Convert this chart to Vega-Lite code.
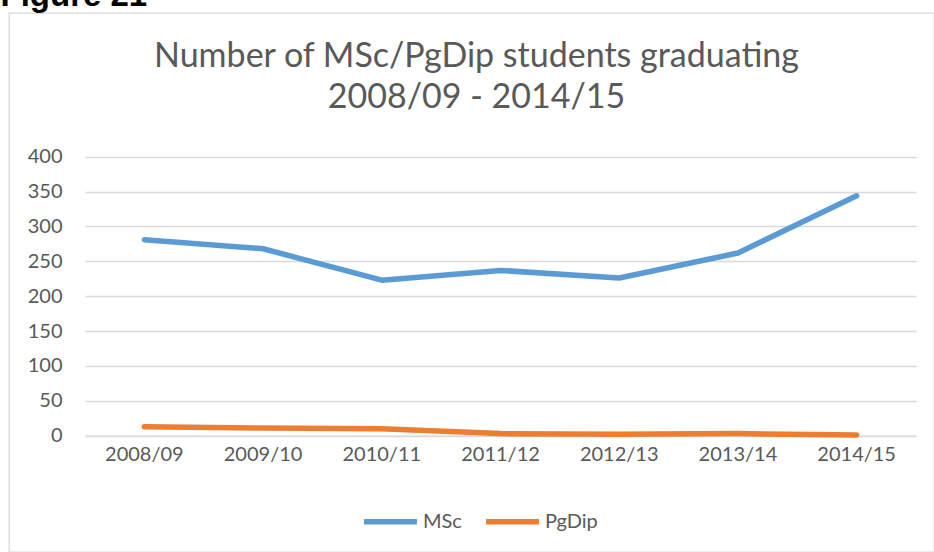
{
  "$schema": "https://vega.github.io/schema/vega-lite/v6.json",
  "autosize": "none",
  "padding": {"left": 9, "top": 13, "right": 0, "bottom": 0},
  "width": 925,
  "height": 539,
  "background": "white",
  "config": {
    "view": {"stroke": "#d9d9d9", "strokeWidth": 1.3},
    "font": "Lato"
  },
  "title": {
    "text": ["Number of MSc/PgDip students graduating", "2008/09 - 2014/15"],
    "font": "Lato",
    "fontSize": 34,
    "fontWeight": "normal",
    "color": "#595959",
    "lineHeight": 41.7,
    "anchor": "middle",
    "frame": "group",
    "baseline": "alphabetic",
    "offset": -163.5,
    "dx": 5
  },
  "data": {
    "values": [
      {"year": "2008/09", "series": "MSc", "value": 281},
      {"year": "2009/10", "series": "MSc", "value": 268},
      {"year": "2010/11", "series": "MSc", "value": 223},
      {"year": "2011/12", "series": "MSc", "value": 237},
      {"year": "2012/13", "series": "MSc", "value": 226},
      {"year": "2013/14", "series": "MSc", "value": 262},
      {"year": "2014/15", "series": "MSc", "value": 344},
      {"year": "2008/09", "series": "PgDip", "value": 13},
      {"year": "2009/10", "series": "PgDip", "value": 11},
      {"year": "2010/11", "series": "PgDip", "value": 10},
      {"year": "2011/12", "series": "PgDip", "value": 3},
      {"year": "2012/13", "series": "PgDip", "value": 2},
      {"year": "2013/14", "series": "PgDip", "value": 3},
      {"year": "2014/15", "series": "PgDip", "value": 1}
    ]
  },
  "mark": {"type": "line", "strokeWidth": 5.5, "strokeCap": "round", "strokeJoin": "round"},
  "encoding": {
    "x": {
      "field": "year",
      "type": "nominal",
      "sort": null,
      "scale": {"type": "band", "range": [76, 907], "paddingInner": 0, "paddingOuter": 0},
      "axis": {
        "title": null,
        "orient": "bottom",
        "offset": -116.3,
        "labelAngle": 0,
        "labelFont": "Lato",
        "labelFontSize": 20,
        "labelColor": "#595959",
        "labelPadding": 9,
        "labelBaseline": "top",
        "ticks": false,
        "tickSize": 0,
        "grid": false,
        "domain": true,
        "domainColor": "#d9d9d9",
        "domainWidth": 1.3
      }
    },
    "y": {
      "field": "value",
      "type": "quantitative",
      "scale": {"domain": [0, 400], "nice": false, "range": [422.7, 143.7]},
      "axis": {
        "title": "Figure 21",
        "titleFont": "Liberation Sans",
        "titleFontSize": 33,
        "titleFontWeight": "bold",
        "titleColor": "black",
        "titleAngle": 0,
        "titleAlign": "left",
        "titleBaseline": "alphabetic",
        "titleX": -85,
        "titleY": -8,
        "offset": -76,
        "values": [0, 50, 100, 150, 200, 250, 300, 350, 400],
        "labelFont": "Lato",
        "labelFontSize": 20,
        "labelColor": "#595959",
        "labelPadding": 23,
        "ticks": false,
        "tickSize": 0,
        "domain": false,
        "grid": true,
        "gridColor": "#d9d9d9",
        "gridWidth": 1.3
      }
    },
    "color": {
      "field": "series",
      "type": "nominal",
      "scale": {"domain": ["MSc", "PgDip"], "range": ["#5B9BD5", "#ED7D31"]},
      "legend": {
        "title": null,
        "orient": "none",
        "direction": "horizontal",
        "legendX": 352,
        "legendY": 479,
        "symbolType": "stroke",
        "symbolSize": 2800,
        "symbolStrokeWidth": 5.5,
        "labelFont": "Lato",
        "labelFontSize": 20,
        "labelColor": "#595959",
        "labelOffset": 3,
        "columnPadding": 13
      }
    }
  }
}
